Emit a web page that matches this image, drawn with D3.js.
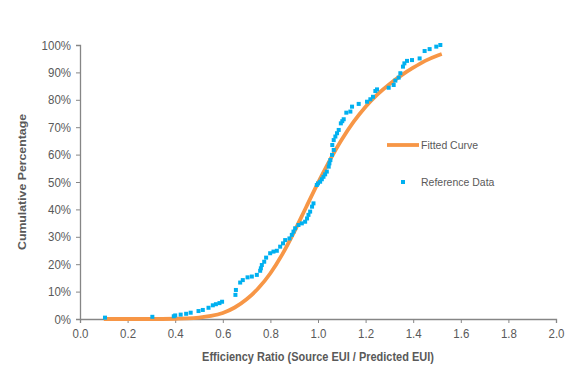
<!DOCTYPE html>
<html>
<head>
<meta charset="utf-8">
<script src="https://cdn.jsdelivr.net/npm/d3@7"></script>
<style>
  html, body { margin: 0; padding: 0; background: #fff; }
  svg { display: block; font-family: "Liberation Sans", Arial, sans-serif; }
  .stretch { transform-box: fill-box; transform-origin: center; transform: scaleY(1.1); }
</style>
</head>
<body>
<svg id="chart" width="566" height="373"></svg>
<script>
// ---- Data ----
const curveX = [0.10, 0.20, 0.30, 0.40, 0.45, 0.50, 0.55, 0.60, 0.65, 0.70, 0.75, 0.80, 0.85, 0.90, 0.95, 1.00, 1.05, 1.10, 1.15, 1.20, 1.25, 1.30, 1.35, 1.40, 1.45, 1.50, 1.52];
const curveY = [0, 0, 0, 0.001, 0.002, 0.005, 0.011, 0.022, 0.042, 0.072, 0.113, 0.167, 0.236, 0.318, 0.408, 0.497, 0.58, 0.655, 0.72, 0.775, 0.82, 0.857, 0.889, 0.917, 0.942, 0.961, 0.967];

const refX = [0.105, 0.304, 0.394, 0.400, 0.423, 0.446, 0.465, 0.498, 0.516, 0.540, 0.558, 0.571, 0.586, 0.597,
  0.653, 0.655, 0.673, 0.684, 0.704, 0.722, 0.743, 0.757, 0.760, 0.764, 0.774, 0.782, 0.799, 0.813, 0.827,
  0.841, 0.853, 0.862, 0.880, 0.890, 0.897, 0.904, 0.918, 0.932, 0.946, 0.954, 0.960, 0.967, 0.975, 0.981,
  0.995, 1.000, 1.009, 1.016, 1.023, 1.030, 1.037, 1.045, 1.048, 1.052, 1.059, 1.066, 1.060, 1.066, 1.073,
  1.080, 1.087, 1.096, 1.102, 1.108, 1.119, 1.136, 1.143, 1.171, 1.206, 1.220, 1.231, 1.241, 1.248, 1.297,
  1.318, 1.325, 1.339, 1.346, 1.357, 1.363, 1.374, 1.395, 1.427, 1.448, 1.469, 1.497, 1.514];
const refY = [0.005, 0.008, 0.010, 0.013, 0.016, 0.019, 0.023, 0.029, 0.033, 0.041, 0.050, 0.054, 0.058, 0.063,
  0.088, 0.106, 0.133, 0.142, 0.152, 0.155, 0.161, 0.176, 0.185, 0.197, 0.209, 0.224, 0.240, 0.246, 0.249,
  0.264, 0.276, 0.288, 0.294, 0.307, 0.319, 0.331, 0.343, 0.349, 0.355, 0.367, 0.380, 0.392, 0.410, 0.422,
  0.489, 0.495, 0.501, 0.510, 0.519, 0.528, 0.538, 0.556, 0.568, 0.580, 0.599, 0.617, 0.635, 0.653, 0.666,
  0.678, 0.690, 0.714, 0.722, 0.729, 0.753, 0.757, 0.775, 0.785, 0.793, 0.802, 0.811, 0.832, 0.838, 0.844,
  0.854, 0.870, 0.881, 0.897, 0.921, 0.933, 0.942, 0.945, 0.951, 0.978, 0.985, 0.994, 1.000];

const xTicks = [0, 0.2, 0.4, 0.6, 0.8, 1.0, 1.2, 1.4, 1.6, 1.8, 2.0];
const yTicks = [0, 0.1, 0.2, 0.3, 0.4, 0.5, 0.6, 0.7, 0.8, 0.9, 1.0];
const seriesNames = ["Fitted Curve", "Reference Data"];

// ---- Layout ----
const svg = d3.select("#chart");
const plotLeft = 80, plotRight = 556, plotTop = 45, plotBottom = 319;
const textColor = "#595959", axisColor = "#868686";
const orange = "#F79646", blue = "#00B0F0";

const x = d3.scaleLinear().domain([0, 2]).range([plotLeft, plotRight]);
const y = d3.scaleLinear().domain([0, 1]).range([plotBottom, plotTop]);

// Axes
const xAxis = svg.append("g").attr("transform", `translate(0,${plotBottom})`)
  .call(d3.axisBottom(x).tickValues(xTicks).tickFormat(d3.format(".1f")).tickSizeOuter(0).tickSize(4).tickPadding(6));
const yAxis = svg.append("g").attr("transform", `translate(${plotLeft},0)`)
  .call(d3.axisLeft(y).tickValues(yTicks).tickFormat(d3.format(".0%")).tickSizeOuter(0).tickSize(4).tickPadding(5));
[xAxis, yAxis].forEach(g => {
  g.selectAll("path.domain").attr("stroke", axisColor).attr("stroke-width", 1.3);
  g.selectAll(".tick line").attr("stroke", axisColor).attr("stroke-width", 1);
  g.selectAll(".tick text").attr("fill", textColor).attr("font-size", 11.5)
    .attr("font-family", "'Liberation Sans', Arial, sans-serif").attr("class", "stretch");
});

// Axis titles
svg.append("text").attr("transform", `translate(${(plotLeft + plotRight) / 2},361) scale(1,1.12)`)
  .attr("text-anchor", "middle")
  .attr("fill", textColor).attr("font-size", 11).attr("font-weight", "bold")
  .text("Efficiency Ratio (Source EUI / Predicted EUI)");
svg.append("text").attr("transform", `translate(26,${(plotTop + plotBottom) / 2}) rotate(-90) scale(1.12,1)`)
  .attr("text-anchor", "middle").attr("fill", textColor).attr("font-size", 11).attr("font-weight", "bold")
  .text("Cumulative Percentage");

// Fitted curve
const curveData = curveX.map((v, i) => [v, curveY[i]]);
svg.append("path").datum(curveData)
  .attr("fill", "none").attr("stroke", orange).attr("stroke-width", 3.8).attr("stroke-linejoin", "round")
  .attr("d", d3.line().x(d => x(d[0])).y(d => y(d[1])).curve(d3.curveMonotoneX));

// Reference data
const refData = refX.map((v, i) => [v, refY[i]]);
svg.append("g").selectAll("rect").data(refData).join("rect")
  .attr("x", d => x(d[0]) - 2).attr("y", d => y(d[1]) - 2)
  .attr("width", 4).attr("height", 4).attr("fill", blue);

// Legend
const lg = svg.append("g");
lg.append("line").attr("x1", 387).attr("x2", 419).attr("y1", 145).attr("y2", 145)
  .attr("stroke", orange).attr("stroke-width", 3.8);
lg.append("text").attr("transform", "translate(421,149) scale(1,1.12)")
  .attr("fill", textColor).attr("font-size", 10.5).text(seriesNames[0]);
lg.append("rect").attr("x", 401).attr("y", 180).attr("width", 4).attr("height", 4).attr("fill", blue);
lg.append("text").attr("transform", "translate(421,186) scale(1,1.12)")
  .attr("fill", textColor).attr("font-size", 10.5).text(seriesNames[1]);
</script>
</body>
</html>
